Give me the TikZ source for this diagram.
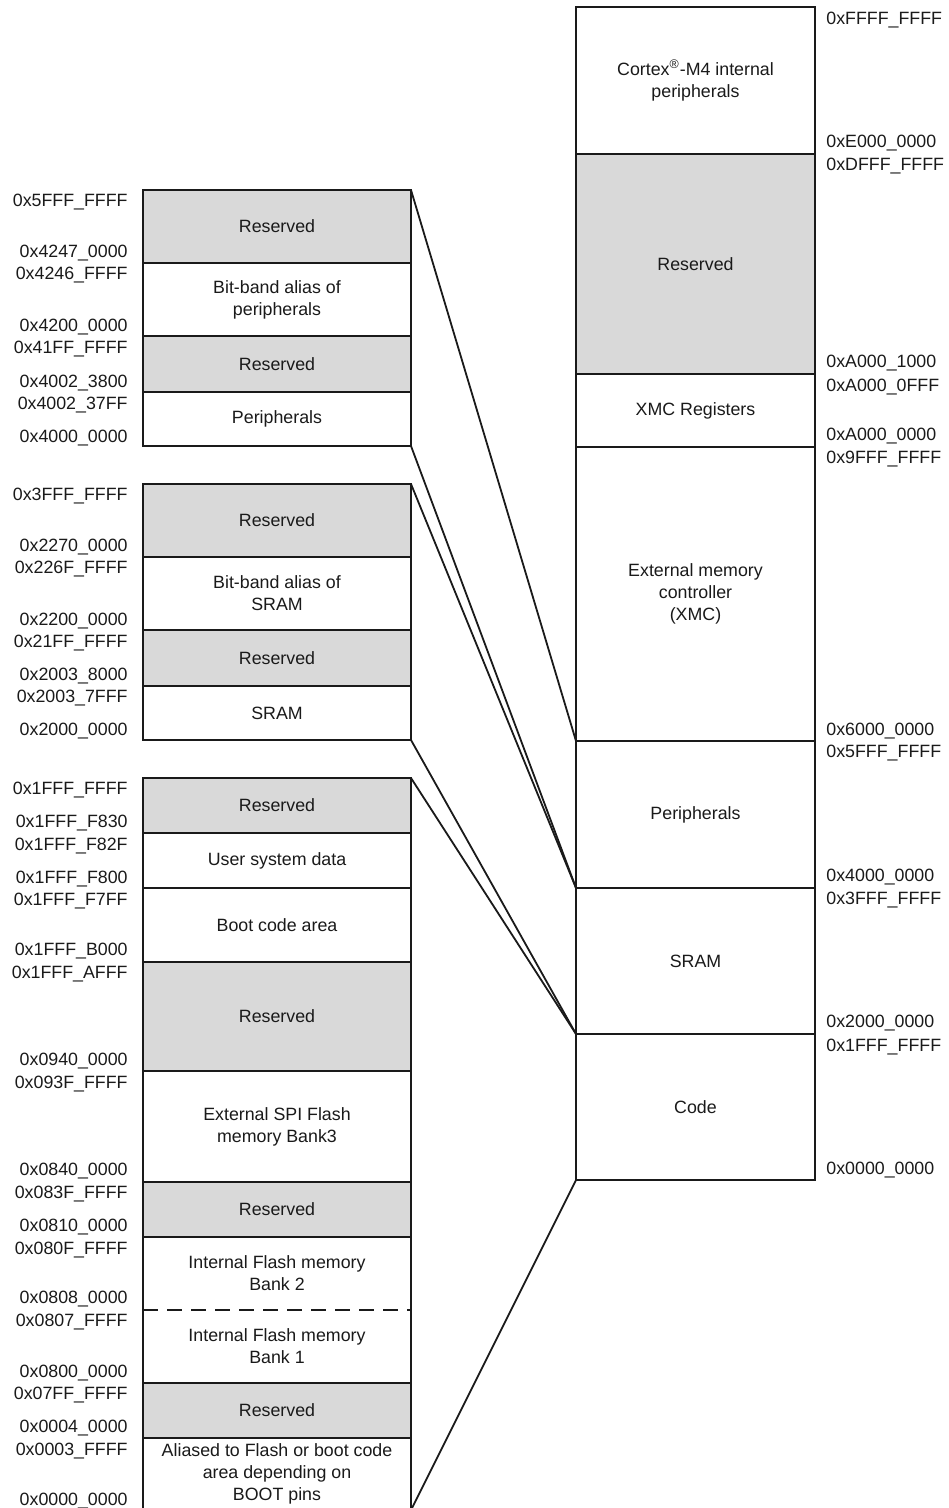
\documentclass[tikz,border=0pt]{standalone}
\usepackage{fontspec}
\setmainfont{Liberation Sans}
\definecolor{resgray}{HTML}{D9D9D9}
\definecolor{ink}{HTML}{1A1A1A}
\tikzset{
  reg/.style={draw=ink, line width=0.9pt, inner sep=0pt, outer sep=0pt, anchor=north west,
              align=center, font=\fontsize{8.9pt}{11pt}\selectfont, text=ink},
  lreg/.style={reg, minimum width=134pt},
  rreg/.style={reg, minimum width=119.5pt},
  res/.style={fill=resgray},
  txt/.style={inner sep=0pt, align=center, font=\fontsize{8.9pt}{11pt}\selectfont, text=ink},
  addrL/.style={anchor=base east, inner sep=0pt, font=\fontsize{8.9pt}{11pt}\selectfont, text=ink},
  addrR/.style={anchor=base west, inner sep=0pt, font=\fontsize{8.9pt}{11pt}\selectfont, text=ink},
  link/.style={draw=ink, line width=0.9pt},
  sep/.style={draw=ink, line width=0.9pt, dash pattern=on 7.5pt off 4.5pt}
}
\begin{document}
\begin{tikzpicture}[x=0.5pt, y=-0.5pt]
\useasboundingbox[fill=white] (0,0) rectangle (948,1508);

% right column
\node[rreg, minimum height=73.5pt] (rcortex) at (576,7) {Cortex\textsuperscript{®}-M4 internal\\peripherals};
\node[rreg, res, minimum height=110pt] (rres) at (576,154) {Reserved};
\node[rreg, minimum height=36.5pt] (rxmc) at (576,374) {XMC Registers};
\node[rreg, minimum height=147pt] (rext) at (576,447) {External memory\\controller\\(XMC)};
\node[rreg, minimum height=73.5pt] (rper) at (576,741) {Peripherals};
\node[rreg, minimum height=73pt] (rsram) at (576,888) {SRAM};
\node[rreg, minimum height=73pt] (rcode) at (576,1034) {Code};

% block 1
\node[lreg, res, minimum height=36.5pt] (a1) at (143,190) {Reserved};
\node[lreg, minimum height=36.5pt] (a2) at (143,263) {Bit-band alias of\\peripherals};
\node[lreg, res, minimum height=28pt] (a3) at (143,336) {Reserved};
\node[lreg, minimum height=27pt] (a4) at (143,392) {Peripherals};

% block 2
\node[lreg, res, minimum height=36.5pt] (b1) at (143,484) {Reserved};
\node[lreg, minimum height=36.5pt] (b2) at (143,557) {Bit-band alias of\\SRAM};
\node[lreg, res, minimum height=28pt] (b3) at (143,630) {Reserved};
\node[lreg, minimum height=27pt] (b4) at (143,686) {SRAM};

% block 3
\node[lreg, res, minimum height=27.5pt] (c1) at (143,778) {Reserved};
\node[lreg, minimum height=27.5pt] (c2) at (143,833) {User system data};
\node[lreg, minimum height=37pt] (c3) at (143,888) {Boot code area};
\node[lreg, res, minimum height=54.5pt] (c4) at (143,962) {Reserved};
\node[lreg, minimum height=55.5pt] (c5) at (143,1071) {External SPI Flash\\memory Bank3};
\node[lreg, res, minimum height=27.5pt] (c6) at (143,1182) {Reserved};
\node[lreg, minimum height=73pt] (c7) at (143,1237) {};
\node[txt] (c7a) at (277,1273.5) {Internal Flash memory\\Bank 2};
\node[txt] (c7b) at (277,1346.5) {Internal Flash memory\\Bank 1};
\draw[sep] (c7.west) -- (c7.east);
\node[lreg, res, minimum height=27.5pt] (c8) at (143,1383) {Reserved};
\node[lreg, minimum height=36pt] (c9) at (143,1438) {Aliased to Flash or boot code\\area depending on\\BOOT pins};

% connectors
\draw[link] (a1.north east) -- (rper.north west);
\draw[link] (a4.south east) -- (rsram.north west);
\draw[link] (b1.north east) -- (rsram.north west);
\draw[link] (b4.south east) -- (rcode.north west);
\draw[link] (c1.north east) -- (rcode.north west);
\draw[link] (c9.south east) -- (rcode.south west);

% right addresses
\foreach \y/\t [count=\i] in {24.5/0xFFFF\_FFFF, 147.5/0xE000\_0000, 170.5/0xDFFF\_FFFF,
  367.5/0xA000\_1000, 391.5/0xA000\_0FFF, 440.5/0xA000\_0000, 463.5/0x9FFF\_FFFF,
  735.5/0x6000\_0000, 757.5/0x5FFF\_FFFF, 881.5/0x4000\_0000, 904.5/0x3FFF\_FFFF,
  1027.5/0x2000\_0000, 1051.5/0x1FFF\_FFFF, 1174.5/0x0000\_0000}
  \node[addrR] (ra\i) at (826,\y) {\t};

% left addresses
\foreach \y/\t [count=\i] in {206.5/0x5FFF\_FFFF, 257.5/0x4247\_0000, 279.5/0x4246\_FFFF,
  331.5/0x4200\_0000, 353.5/0x41FF\_FFFF, 387.5/0x4002\_3800, 409.5/0x4002\_37FF, 442.5/0x4000\_0000,
  500.5/0x3FFF\_FFFF, 551.5/0x2270\_0000, 573.5/0x226F\_FFFF, 625.5/0x2200\_0000,
  647.5/0x21FF\_FFFF, 680.5/0x2003\_8000, 702.5/0x2003\_7FFF, 735.5/0x2000\_0000,
  794.5/0x1FFF\_FFFF, 827.5/0x1FFF\_F830, 850.5/0x1FFF\_F82F, 883.5/0x1FFF\_F800,
  905.5/0x1FFF\_F7FF, 955.5/0x1FFF\_B000, 978.5/0x1FFF\_AFFF, 1065.5/0x0940\_0000,
  1088.5/0x093F\_FFFF, 1175.5/0x0840\_0000, 1198.5/0x083F\_FFFF, 1231.5/0x0810\_0000,
  1254.5/0x080F\_FFFF, 1303.5/0x0808\_0000, 1326.5/0x0807\_FFFF, 1377.5/0x0800\_0000,
  1399.5/0x07FF\_FFFF, 1432.5/0x0004\_0000, 1455.5/0x0003\_FFFF, 1505.5/0x0000\_0000}
  \node[addrL] (la\i) at (128,\y) {\t};
\end{tikzpicture}
\end{document}
